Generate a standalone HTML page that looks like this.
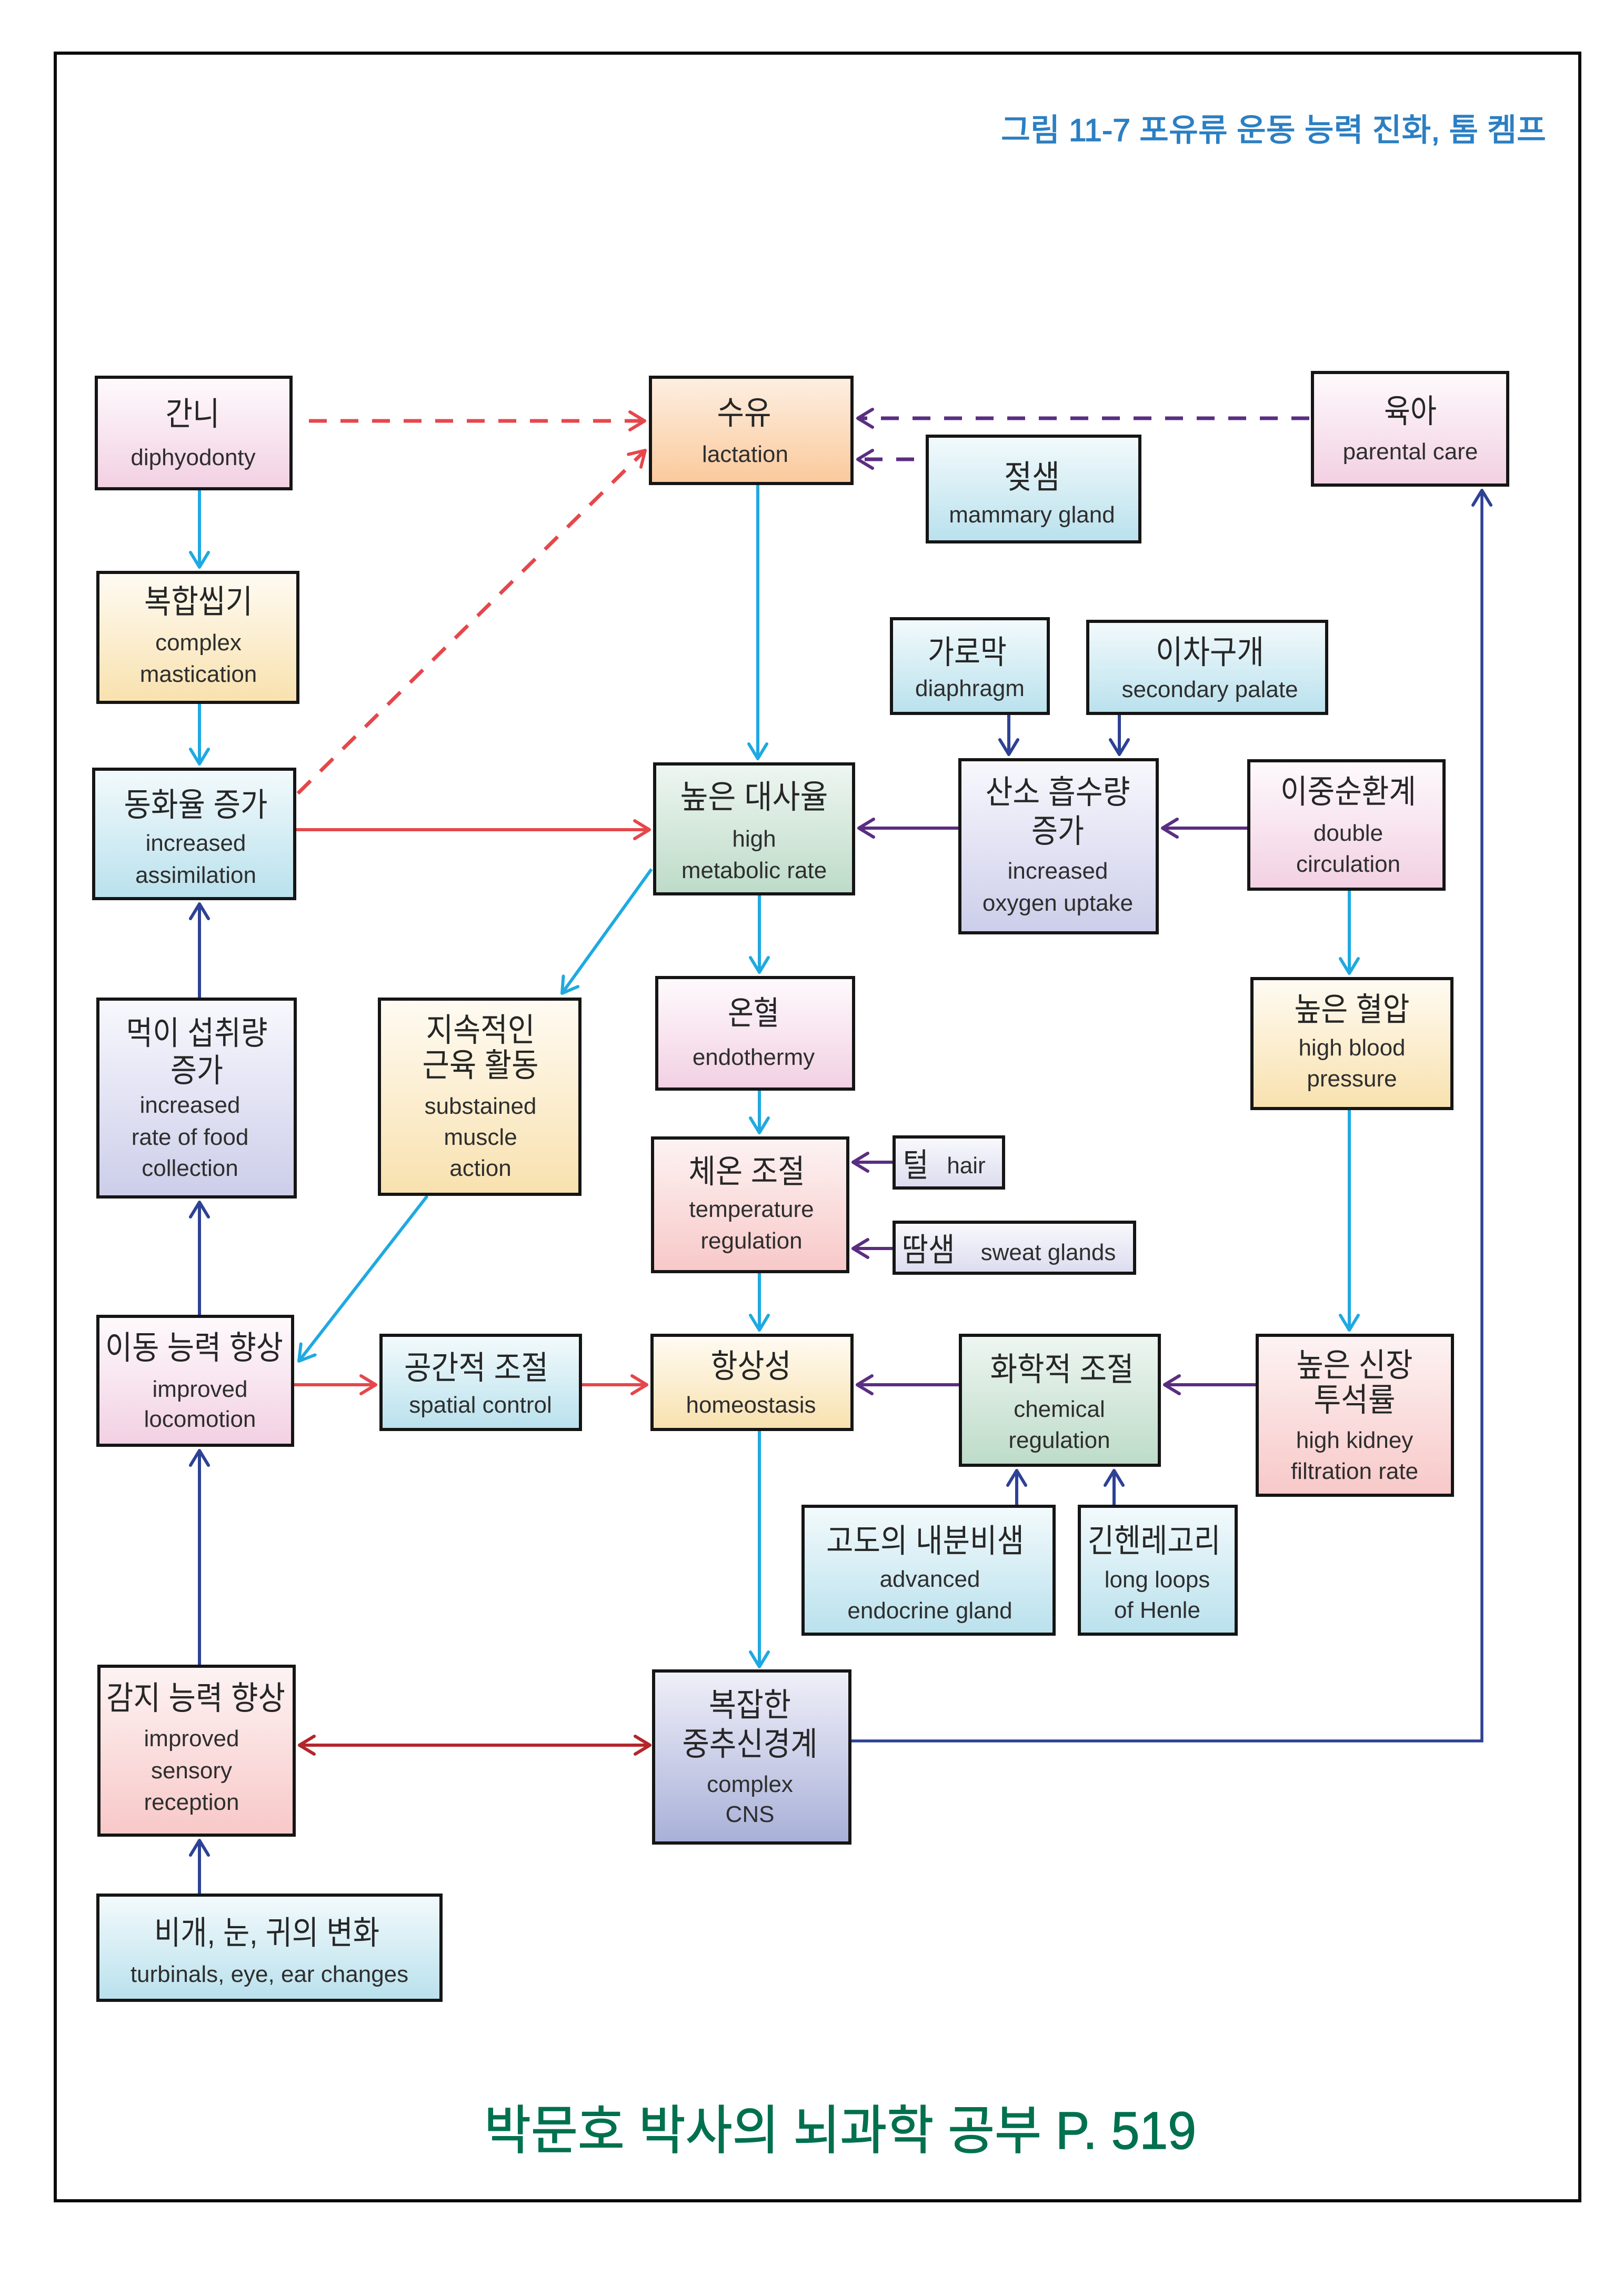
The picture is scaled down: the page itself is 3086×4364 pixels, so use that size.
<!DOCTYPE html>
<html>
<head>
<meta charset="utf-8">
<style>
html,body{margin:0;padding:0;background:#fff;}
svg{display:block;}
.ko{font-family:"Liberation Sans","Noto Sans CJK KR",sans-serif;font-size:62px;fill:#262626;text-anchor:middle;}
.en{font-family:"Liberation Sans","Noto Sans CJK KR",sans-serif;font-size:44px;fill:#2e2e2e;text-anchor:middle;}
.bx{stroke:#151515;stroke-width:6;}
</style>
</head>
<body>
<svg width="3086" height="4364" viewBox="0 0 3086 4364" xmlns="http://www.w3.org/2000/svg">
<defs>
<linearGradient id="gpink" x1="0" y1="0" x2="0" y2="1"><stop offset="0" stop-color="#fefafc"/><stop offset="1" stop-color="#f2d0e3"/></linearGradient>
<linearGradient id="gorange" x1="0" y1="0" x2="0" y2="1"><stop offset="0" stop-color="#fdefe2"/><stop offset="1" stop-color="#fbc99b"/></linearGradient>
<linearGradient id="gblue" x1="0" y1="0" x2="0" y2="1"><stop offset="0" stop-color="#f3fafc"/><stop offset="1" stop-color="#b9e1ed"/></linearGradient>
<linearGradient id="gcream" x1="0" y1="0" x2="0" y2="1"><stop offset="0" stop-color="#fffbf3"/><stop offset="1" stop-color="#f8e1ae"/></linearGradient>
<linearGradient id="ggreen" x1="0" y1="0" x2="0" y2="1"><stop offset="0" stop-color="#eef6f1"/><stop offset="1" stop-color="#bddbc8"/></linearGradient>
<linearGradient id="glav" x1="0" y1="0" x2="0" y2="1"><stop offset="0" stop-color="#f8f8fd"/><stop offset="1" stop-color="#ccceea"/></linearGradient>
<linearGradient id="glav2" x1="0" y1="0" x2="0" y2="1"><stop offset="0" stop-color="#f9f9fd"/><stop offset="1" stop-color="#dcdcef"/></linearGradient>
<linearGradient id="gsalmon" x1="0" y1="0" x2="0" y2="1"><stop offset="0" stop-color="#fdf3f3"/><stop offset="1" stop-color="#f8c8c8"/></linearGradient>
<linearGradient id="gcns" x1="0" y1="0" x2="0" y2="1"><stop offset="0" stop-color="#f0f0f9"/><stop offset="1" stop-color="#a8b0d8"/></linearGradient>

<marker id="mc" markerUnits="userSpaceOnUse" viewBox="-40 -25 50 50" refX="0" refY="0" markerWidth="50" markerHeight="50" orient="auto"><path d="M-28,-17 L0,0 L-28,17" fill="none" stroke="#1fa9e1" stroke-width="6" stroke-linecap="round" stroke-linejoin="round"/></marker>
<marker id="mr" markerUnits="userSpaceOnUse" viewBox="-40 -25 50 50" refX="0" refY="0" markerWidth="50" markerHeight="50" orient="auto"><path d="M-28,-17 L0,0 L-28,17" fill="none" stroke="#e5474b" stroke-width="6" stroke-linecap="round" stroke-linejoin="round"/></marker>
<marker id="mp" markerUnits="userSpaceOnUse" viewBox="-40 -25 50 50" refX="0" refY="0" markerWidth="50" markerHeight="50" orient="auto"><path d="M-28,-17 L0,0 L-28,17" fill="none" stroke="#5a2d82" stroke-width="6" stroke-linecap="round" stroke-linejoin="round"/></marker>
<marker id="mn" markerUnits="userSpaceOnUse" viewBox="-40 -25 50 50" refX="0" refY="0" markerWidth="50" markerHeight="50" orient="auto"><path d="M-28,-17 L0,0 L-28,17" fill="none" stroke="#2d4195" stroke-width="6" stroke-linecap="round" stroke-linejoin="round"/></marker>
<marker id="md" markerUnits="userSpaceOnUse" viewBox="-40 -25 50 50" refX="0" refY="0" markerWidth="50" markerHeight="50" orient="auto-start-reverse"><path d="M-28,-17 L0,0 L-28,17" fill="none" stroke="#b3262c" stroke-width="6" stroke-linecap="round" stroke-linejoin="round"/></marker>
</defs>

<rect x="0" y="0" width="3086" height="4364" fill="#ffffff"/>
<!-- outer frame -->
<rect x="105" y="101" width="2897" height="4082" fill="none" stroke="#0a0a0a" stroke-width="6"/>

<!-- title -->
<text x="1902" y="268" font-family="'Liberation Sans','Noto Sans CJK KR',sans-serif" font-size="60" fill="#2b7fc3" stroke="#2b7fc3" stroke-width="1.5" textLength="1036" lengthAdjust="spacingAndGlyphs">그림 11-7 포유류 운동 능력 진화, 톰 켐프</text>

<!-- connectors -->
<g fill="none" stroke-width="6">
  <!-- dashed -->
  <path d="M587,800 H1225" stroke="#e5474b" stroke-width="7" stroke-dasharray="34 26" marker-end="url(#mr)"/>
  <path d="M566,1508 L1226,856" stroke="#e5474b" stroke-width="7" stroke-dasharray="34 26" marker-end="url(#mr)"/>
  <path d="M2488,795 H1630" stroke="#5a2d82" stroke-width="7" stroke-dasharray="34 26" marker-end="url(#mp)"/>
  <path d="M1737,873 H1630" stroke="#5a2d82" stroke-width="7" stroke-dasharray="34 26" marker-end="url(#mp)"/>
  <!-- cyan -->
  <path d="M379,932 V1078" stroke="#1fa9e1" marker-end="url(#mc)"/>
  <path d="M379,1338 V1452" stroke="#1fa9e1" marker-end="url(#mc)"/>
  <path d="M1440,922 V1442" stroke="#1fa9e1" marker-end="url(#mc)"/>
  <path d="M1238,1652 L1068,1888" stroke="#1fa9e1" marker-end="url(#mc)"/>
  <path d="M1443,1702 V1848" stroke="#1fa9e1" marker-end="url(#mc)"/>
  <path d="M2564,1693 V1850" stroke="#1fa9e1" marker-end="url(#mc)"/>
  <path d="M1443,2073 V2153" stroke="#1fa9e1" marker-end="url(#mc)"/>
  <path d="M812,2273 L568,2587" stroke="#1fa9e1" marker-end="url(#mc)"/>
  <path d="M2564,2110 V2528" stroke="#1fa9e1" marker-end="url(#mc)"/>
  <path d="M1443,2420 V2528" stroke="#1fa9e1" marker-end="url(#mc)"/>
  <path d="M1443,2720 V3168" stroke="#1fa9e1" marker-end="url(#mc)"/>
  <!-- red solid -->
  <path d="M563,1577 H1234" stroke="#e5474b" marker-end="url(#mr)"/>
  <path d="M559,2632 H714" stroke="#e5474b" marker-end="url(#mr)"/>
  <path d="M1106,2632 H1229" stroke="#e5474b" marker-end="url(#mr)"/>
  <!-- purple -->
  <path d="M1821,1574 H1632" stroke="#5a2d82" marker-end="url(#mp)"/>
  <path d="M2370,1574 H2209" stroke="#5a2d82" marker-end="url(#mp)"/>
  <path d="M1696,2209 H1621" stroke="#5a2d82" marker-end="url(#mp)"/>
  <path d="M1696,2373 H1621" stroke="#5a2d82" marker-end="url(#mp)"/>
  <path d="M1822,2632 H1629" stroke="#5a2d82" marker-end="url(#mp)"/>
  <path d="M2386,2632 H2213" stroke="#5a2d82" marker-end="url(#mp)"/>
  <!-- navy -->
  <path d="M1917,1359 V1434" stroke="#2d4195" marker-end="url(#mn)"/>
  <path d="M2127,1359 V1434" stroke="#2d4195" marker-end="url(#mn)"/>
  <path d="M379,1896 V1718" stroke="#2d4195" marker-end="url(#mn)"/>
  <path d="M379,2499 V2285" stroke="#2d4195" marker-end="url(#mn)"/>
  <path d="M1932,2860 V2795" stroke="#2d4195" marker-end="url(#mn)"/>
  <path d="M2117,2860 V2795" stroke="#2d4195" marker-end="url(#mn)"/>
  <path d="M379,3164 V2757" stroke="#2d4195" marker-end="url(#mn)"/>
  <path d="M379,3599 V3498" stroke="#2d4195" marker-end="url(#mn)"/>
  <path d="M1615,3309 H2816 V932" stroke="#2d4195" stroke-width="5.5" marker-end="url(#mn)"/>
  <!-- dark red double -->
  <path d="M569,3317 H1235" stroke="#b3262c" marker-start="url(#md)" marker-end="url(#md)"/>
</g>

<!-- boxes -->
<g class="bx">
  <rect x="183" y="717" width="370" height="212" fill="url(#gpink)"/>
  <rect x="1236" y="717" width="383" height="202" fill="url(#gorange)"/>
  <rect x="2494" y="708" width="371" height="214" fill="url(#gpink)"/>
  <rect x="1762" y="829" width="404" height="201" fill="url(#gblue)"/>
  <rect x="186" y="1088" width="380" height="247" fill="url(#gcream)"/>
  <rect x="1694" y="1176" width="298" height="180" fill="url(#gblue)"/>
  <rect x="2067" y="1181" width="454" height="175" fill="url(#gblue)"/>
  <rect x="178" y="1462" width="382" height="246" fill="url(#gblue)"/>
  <rect x="1244" y="1452" width="378" height="247" fill="url(#ggreen)"/>
  <rect x="1824" y="1444" width="375" height="329" fill="url(#glav)"/>
  <rect x="2373" y="1446" width="371" height="244" fill="url(#gpink)"/>
  <rect x="186" y="1899" width="375" height="376" fill="url(#glav)"/>
  <rect x="721" y="1899" width="381" height="371" fill="url(#gcream)"/>
  <rect x="1248" y="1858" width="374" height="212" fill="url(#gpink)"/>
  <rect x="2379" y="1860" width="380" height="247" fill="url(#gcream)"/>
  <rect x="1240" y="2163" width="371" height="254" fill="url(#gsalmon)"/>
  <rect x="1699" y="2161" width="208" height="97" fill="url(#glav2)"/>
  <rect x="1699" y="2323" width="457" height="97" fill="url(#glav2)"/>
  <rect x="186" y="2502" width="370" height="245" fill="url(#gpink)"/>
  <rect x="724" y="2538" width="379" height="179" fill="url(#gblue)"/>
  <rect x="1239" y="2538" width="380" height="179" fill="url(#gcream)"/>
  <rect x="1825" y="2538" width="378" height="247" fill="url(#ggreen)"/>
  <rect x="2389" y="2538" width="371" height="304" fill="url(#gsalmon)"/>
  <rect x="1526" y="2863" width="477" height="243" fill="url(#gblue)"/>
  <rect x="2051" y="2863" width="298" height="243" fill="url(#gblue)"/>
  <rect x="188" y="3167" width="371" height="321" fill="url(#gsalmon)"/>
  <rect x="1242" y="3176" width="373" height="327" fill="url(#gcns)"/>
  <rect x="186" y="3602" width="652" height="200" fill="url(#gblue)"/>
</g>

<!-- box text -->
<g>
  <text class="ko" x="366" y="808" textLength="103" lengthAdjust="spacingAndGlyphs">간니</text>
  <text class="en" x="367" y="884">diphyodonty</text>

  <text class="ko" x="1414" y="806" textLength="103" lengthAdjust="spacingAndGlyphs">수유</text>
  <text class="en" x="1416" y="878">lactation</text>

  <text class="ko" x="2680" y="803" textLength="100" lengthAdjust="spacingAndGlyphs">육아</text>
  <text class="en" x="2680" y="873">parental care</text>

  <text class="ko" x="1961" y="928" textLength="106" lengthAdjust="spacingAndGlyphs">젖샘</text>
  <text class="en" x="1961" y="993">mammary gland</text>

  <text class="ko" x="377" y="1165" textLength="206" lengthAdjust="spacingAndGlyphs">복합씹기</text>
  <text class="en" x="377" y="1236">complex</text>
  <text class="en" x="377" y="1296">mastication</text>

  <text class="ko" x="1838" y="1261" textLength="150" lengthAdjust="spacingAndGlyphs">가로막</text>
  <text class="en" x="1843" y="1323">diaphragm</text>

  <text class="ko" x="2299" y="1261" textLength="206" lengthAdjust="spacingAndGlyphs">이차구개</text>
  <text class="en" x="2299" y="1325">secondary palate</text>

  <text class="ko" x="372" y="1551" textLength="273" lengthAdjust="spacingAndGlyphs">동화율 증가</text>
  <text class="en" x="372" y="1617">increased</text>
  <text class="en" x="372" y="1678">assimilation</text>

  <text class="ko" x="1433" y="1536" textLength="281" lengthAdjust="spacingAndGlyphs">높은 대사율</text>
  <text class="en" x="1433" y="1609">high</text>
  <text class="en" x="1433" y="1669">metabolic rate</text>

  <text class="ko" x="2010" y="1527" textLength="275" lengthAdjust="spacingAndGlyphs">산소 흡수량</text>
  <text class="ko" x="2010" y="1601" textLength="100" lengthAdjust="spacingAndGlyphs">증가</text>
  <text class="en" x="2010" y="1670">increased</text>
  <text class="en" x="2010" y="1731">oxygen uptake</text>

  <text class="ko" x="2562" y="1526" textLength="258" lengthAdjust="spacingAndGlyphs">이중순환계</text>
  <text class="en" x="2562" y="1598">double</text>
  <text class="en" x="2562" y="1657">circulation</text>

  <text class="ko" x="374" y="1985" textLength="269" lengthAdjust="spacingAndGlyphs">먹이 섭취량</text>
  <text class="ko" x="374" y="2056" textLength="100" lengthAdjust="spacingAndGlyphs">증가</text>
  <text class="en" x="361" y="2115">increased</text>
  <text class="en" x="361" y="2176">rate of food</text>
  <text class="en" x="361" y="2235">collection</text>

  <text class="ko" x="913" y="1979" textLength="207" lengthAdjust="spacingAndGlyphs">지속적인</text>
  <text class="ko" x="913" y="2046" textLength="221" lengthAdjust="spacingAndGlyphs">근육 활동</text>
  <text class="en" x="913" y="2117">substained</text>
  <text class="en" x="913" y="2176">muscle</text>
  <text class="en" x="913" y="2235">action</text>

  <text class="ko" x="1432" y="1947" textLength="98" lengthAdjust="spacingAndGlyphs">온혈</text>
  <text class="en" x="1432" y="2024">endothermy</text>

  <text class="ko" x="2569" y="1940" textLength="219" lengthAdjust="spacingAndGlyphs">높은 혈압</text>
  <text class="en" x="2569" y="2006">high blood</text>
  <text class="en" x="2569" y="2065">pressure</text>

  <text class="ko" x="1419" y="2248" textLength="221" lengthAdjust="spacingAndGlyphs">체온 조절</text>
  <text class="en" x="1428" y="2313">temperature</text>
  <text class="en" x="1428" y="2373">regulation</text>

  <text class="ko" x="1740" y="2236" textLength="49" lengthAdjust="spacingAndGlyphs">털</text>
  <text class="en" x="1836" y="2230">hair</text>

  <text class="ko" x="1764" y="2397" textLength="101" lengthAdjust="spacingAndGlyphs">땀샘</text>
  <text class="en" x="1992" y="2395">sweat glands</text>

  <text class="ko" x="369" y="2583" textLength="338" lengthAdjust="spacingAndGlyphs">이동 능력 향상</text>
  <text class="en" x="380" y="2655">improved</text>
  <text class="en" x="380" y="2712">locomotion</text>

  <text class="ko" x="905" y="2621" textLength="274" lengthAdjust="spacingAndGlyphs">공간적 조절</text>
  <text class="en" x="913" y="2685">spatial control</text>

  <text class="ko" x="1427" y="2618" textLength="153" lengthAdjust="spacingAndGlyphs">항상성</text>
  <text class="en" x="1427" y="2685">homeostasis</text>

  <text class="ko" x="2018" y="2624" textLength="273" lengthAdjust="spacingAndGlyphs">화학적 조절</text>
  <text class="en" x="2013" y="2693">chemical</text>
  <text class="en" x="2013" y="2752">regulation</text>

  <text class="ko" x="2574" y="2616" textLength="221" lengthAdjust="spacingAndGlyphs">높은 신장</text>
  <text class="ko" x="2574" y="2682" textLength="155" lengthAdjust="spacingAndGlyphs">투석률</text>
  <text class="en" x="2574" y="2752">high kidney</text>
  <text class="en" x="2574" y="2811">filtration rate</text>

  <text class="ko" x="1758" y="2950" textLength="376" lengthAdjust="spacingAndGlyphs">고도의 내분비샘</text>
  <text class="en" x="1767" y="3016">advanced</text>
  <text class="en" x="1767" y="3076">endocrine gland</text>

  <text class="ko" x="2193" y="2950" textLength="253" lengthAdjust="spacingAndGlyphs">긴헨레고리</text>
  <text class="en" x="2199" y="3017">long loops</text>
  <text class="en" x="2199" y="3075">of Henle</text>

  <text class="ko" x="372" y="3249" textLength="340" lengthAdjust="spacingAndGlyphs">감지 능력 향상</text>
  <text class="en" x="364" y="3319">improved</text>
  <text class="en" x="364" y="3380">sensory</text>
  <text class="en" x="364" y="3440">reception</text>

  <text class="ko" x="1425" y="3262" textLength="156" lengthAdjust="spacingAndGlyphs">복잡한</text>
  <text class="ko" x="1425" y="3336" textLength="257" lengthAdjust="spacingAndGlyphs">중추신경계</text>
  <text class="en" x="1425" y="3406">complex</text>
  <text class="en" x="1425" y="3463">CNS</text>

  <text class="ko" x="507" y="3695" textLength="428" lengthAdjust="spacingAndGlyphs">비개, 눈, 귀의 변화</text>
  <text class="en" x="512" y="3767">turbinals, eye, ear changes</text>
</g>

<!-- footer -->
<text x="920" y="4084" font-family="'Liberation Sans','Noto Sans CJK KR',sans-serif" font-size="100" fill="#00704f" stroke="#00704f" stroke-width="1.5" textLength="1353" lengthAdjust="spacingAndGlyphs">박문호 박사의 뇌과학 공부 P. 519</text>
</svg>
</body>
</html>
